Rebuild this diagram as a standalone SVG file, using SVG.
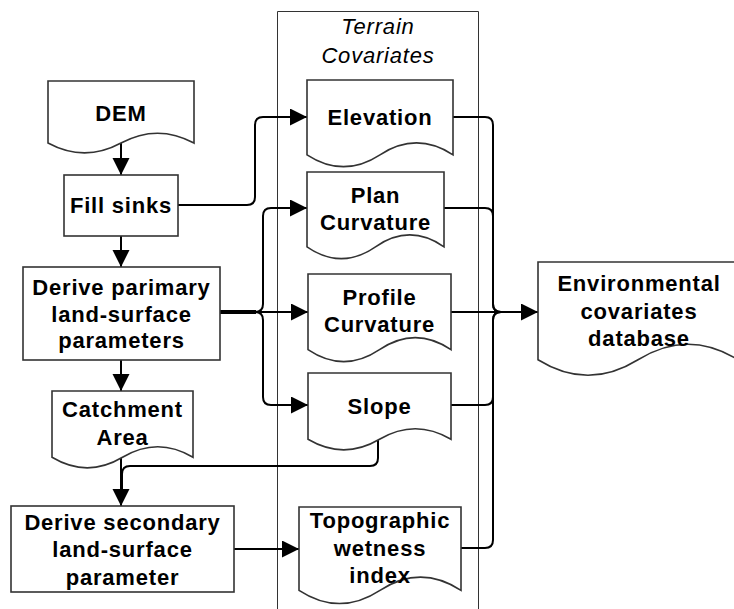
<svg xmlns="http://www.w3.org/2000/svg" width="734" height="609" viewBox="0 0 734 609">
<style>
.box{fill:#fff;stroke:#333;stroke-width:1.6}
.lane{fill:none;stroke:#333;stroke-width:1}
.t{font-family:"Liberation Sans",Arial,sans-serif;font-weight:bold;font-size:22px;fill:#000;text-anchor:middle;letter-spacing:0.8px}
.ti{font-family:"Liberation Sans",Arial,sans-serif;font-style:italic;font-size:22px;fill:#000;text-anchor:middle;letter-spacing:0.8px}
.c{fill:none;stroke:#000;stroke-width:2}
</style>
<defs>
<marker id="ar" markerUnits="userSpaceOnUse" markerWidth="18" markerHeight="18" refX="17" refY="8.5" orient="auto">
<path d="M0,0 L17,8.5 L0,17 Z" fill="#000"/>
</marker>
</defs>
<rect width="734" height="609" fill="#fff"/>
<g id="lane">
<path class="lane" d="M277.5,620 V11.5 H478.5 V620"/>
<text class="ti" x="378" y="34">Terrain</text>
<text class="ti" x="378" y="63">Covariates</text>
</g>
<g id="connectors">
<path class="c" d="M121,143 V175" marker-end="url(#ar)"/>
<path class="c" d="M121,236 V267" marker-end="url(#ar)"/>
<path class="c" d="M121,360 V391" marker-end="url(#ar)"/>
<path class="c" d="M121,457 V506" marker-end="url(#ar)"/>
<path class="c" d="M378,439 V458 Q378,466 370,466 H130 Q122,466 122,474 V490"/>
<path class="c" d="M234,549 H299" marker-end="url(#ar)"/>
<path class="c" d="M178,205 H247 Q255,205 255,197 V125 Q255,117 263,117 H307" marker-end="url(#ar)"/>
<path class="c" d="M220,312 H255 Q263,312 263,304 V216 Q263,208 271,208 H307" marker-end="url(#ar)"/>
<path class="c" d="M220,312 H308" marker-end="url(#ar)"/>
<path class="c" d="M220,312 H255 Q263,312 263,320 V397 Q263,405 271,405 H308" marker-end="url(#ar)"/>
<path class="c" style="stroke-width:4" d="M220,312 H256"/>
<path class="c" d="M453,117 H485 Q493,117 493,125 V304 Q493,312 501,312"/>
<path class="c" d="M444,208 H485 Q493,208 493,216 V304 Q493,312 501,312"/>
<path class="c" d="M451,405 H485 Q493,405 493,397 V320 Q493,312 501,312"/>
<path class="c" d="M461,548 H485 Q493,548 493,540 V320 Q493,312 501,312"/>
<path class="c" d="M451,312 H538" marker-end="url(#ar)"/>
</g>
<g id="dem">
<path class="box" d="M48,81 H194 V143.05 Q157.5,123.34 121,143.05 Q84.5,162.76 48,143.05 Z"/>
<text class="t" x="121" y="121">DEM</text>
</g>
<g id="fill-sinks">
<rect class="box" x="64" y="175" width="114" height="61"/>
<text class="t" x="121" y="213">Fill sinks</text>
</g>
<g id="derive-primary">
<rect class="box" x="23" y="267" width="197" height="93"/>
<text class="t" x="121.5" y="295">Derive parimary</text>
<text class="t" x="121.5" y="321.5">land-surface</text>
<text class="t" x="121.5" y="348">parameters</text>
</g>
<g id="catchment">
<path class="box" d="M52,391 H193 V457.3 Q157.75,436.24 122.5,457.3 Q87.25,478.36 52,457.3 Z"/>
<text class="t" x="122.5" y="417">Catchment</text>
<text class="t" x="122.5" y="445">Area</text>
</g>
<g id="derive-secondary">
<rect class="box" x="11" y="506" width="223" height="86"/>
<text class="t" x="122.5" y="530">Derive secondary</text>
<text class="t" x="122.5" y="557">land-surface</text>
<text class="t" x="122.5" y="585">parameter</text>
</g>
<g id="elevation">
<path class="box" d="M307,80 H453 V154.8 Q416.5,131.04 380,154.8 Q343.5,178.56 307,154.8 Z"/>
<text class="t" x="380" y="125">Elevation</text>
</g>
<g id="plan-curvature">
<path class="box" d="M307,172 H444 V246.8 Q409.75,223.04 375.5,246.8 Q341.25,270.56 307,246.8 Z"/>
<text class="t" x="375.5" y="203">Plan</text>
<text class="t" x="375.5" y="230">Curvature</text>
</g>
<g id="profile-curvature">
<path class="box" d="M308,274 H451 V349.65 Q415.25,325.62 379.5,349.65 Q343.75,373.68 308,349.65 Z"/>
<text class="t" x="379.5" y="305">Profile</text>
<text class="t" x="379.5" y="332">Curvature</text>
</g>
<g id="slope">
<path class="box" d="M308,373 H451 V439.3 Q415.25,418.24 379.5,439.3 Q343.75,460.36 308,439.3 Z"/>
<text class="t" x="379.5" y="414">Slope</text>
</g>
<g id="twi">
<path class="box" d="M299,507 H461 V590.3 Q420.5,563.84 380,590.3 Q339.5,616.76 299,590.3 Z"/>
<text class="t" x="380" y="528">Topographic</text>
<text class="t" x="380" y="556">wetness</text>
<text class="t" x="380" y="583">index</text>
</g>
<g id="env-db">
<path class="box" d="M538,262 H738 V359.75 Q688,328.7 638,359.75 Q588,390.8 538,359.75 Z"/>
<text class="t" x="639" y="291">Environmental</text>
<text class="t" x="639" y="319">covariates</text>
<text class="t" x="639" y="346">database</text>
</g>
</svg>
